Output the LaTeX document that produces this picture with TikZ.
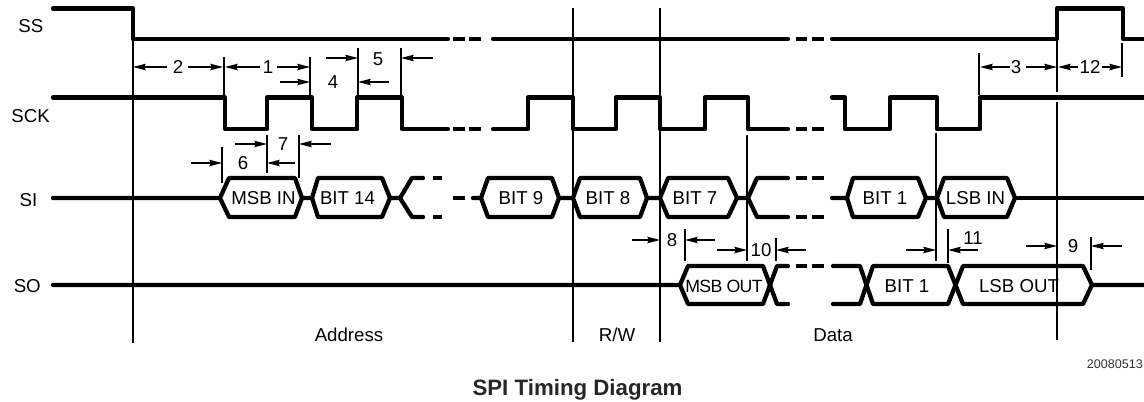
\documentclass[tikz,border=0pt]{standalone}
\usepackage{fontspec}
\setmainfont{Liberation Sans}
\usetikzlibrary{arrows.meta}
\tikzset{
  sig/.style={line width=3.2pt,line cap=round,line join=round},
  thinline/.style={line width=0.9pt},
  dim/.style={line width=0.9pt,-{Stealth[length=9.5pt,width=4.8pt,inset=1pt]}},
  lab/.style={inner sep=0pt,font=\fontsize{14}{15}\selectfont},
  small/.style={inner sep=0pt,font=\fontsize{13.3}{15}\selectfont\addfontfeatures{LetterSpace=-4}},
  tiny/.style={inner sep=0pt,font=\fontsize{9.4}{11}\selectfont,text=black!80},
  titlefont/.style={inner sep=0pt,font=\fontsize{16.7}{18}\selectfont\bfseries,text=black!85},
}
\begin{document}
\begin{tikzpicture}[x=0.75pt,y=-0.75pt]
\useasboundingbox (0,0) rectangle (1144,402);
% thin verticals
\foreach \x/\a/\b in {133/39/343,573/8/342,660/8/342,1057/39/92,1057/102/340,747/135/261,936/133/261,
  224/57/97,310/57/95,358/48/95,401/48/95,267/135/173,299/135/178,222/147/183,979/53/95,1122/43/77,
  685/229/261,776/238/261,948/229/263,1091/237/270}
  \draw[thinline] (\x,\a) -- (\x,\b);
% dimension arrows
\foreach \a/\b/\y in {167/133/67,188/223/67,260/225/67,277/310/67,280/310/82,389/358/82,326/358/58,433/401/58,
  235/267/144,331/299/144,191/222/163,295/267/163,1010/980/67,1026/1057/67,1078/1058/67,1102/1122/67,
  632/660/240,715/685/240,717/747/250,806/776/250,906/936/250,978/948/250,1026/1057/246,1122/1091/246}
  \draw[dim] (\a,\y) -- (\b,\y);
% SS
\draw[sig] (53,8.5) -- (133,8.5) -- (133,39) -- (448,39);
\draw[sig] (493,39) -- (788,39);
\draw[sig] (832,39) -- (1057,39) -- (1057,8.5) -- (1123,8.5) -- (1123,39) -- (1144,39);
% SCK
\draw[sig] (53,97.5) -- (225,97.5) -- (225,129) -- (267,129) -- (267,97.5) -- (312,97.5) -- (312,129) -- (357,129) -- (357,97.5) -- (402,97.5) -- (402,129) -- (448,129);
\draw[sig] (493,129) -- (528,129) -- (528,97.5) -- (573,97.5) -- (573,129) -- (616,129) -- (616,97.5) -- (660,97.5) -- (660,129) -- (705,129) -- (705,97.5) -- (748,97.5) -- (748,129) -- (788,129);
\draw[sig] (832,97.5) -- (845,97.5) -- (845,129) -- (890,129) -- (890,97.5) -- (937,97.5) -- (937,129) -- (980,129) -- (980,97.5) -- (1144,97.5);
% broken-line dashes on SS and SCK and SI
\foreach \y in {39,129,198} {
  \draw[sig,line cap=butt] (453,\y) -- (465,\y);
}
\foreach \y in {39,129} {
  \draw[sig,line cap=butt] (469,\y) -- (481,\y);
  \draw[sig,line cap=butt] (796,\y) -- (807,\y);
  \draw[sig,line cap=butt] (812,\y) -- (824,\y);
}
% SI
\draw[sig] (53,198) -- (220,198) -- (229,178) -- (295,178) -- (302,198) -- (295,217) -- (229,217) -- (220,198);
\draw[sig] (302,198) -- (312,198) -- (318,178) -- (382,178) -- (390,198) -- (382,217) -- (318,217) -- (312,198);
\draw[sig] (390,198) -- (400,198) -- (412,178) -- (423,178);
\draw[sig] (400,198) -- (412,217) -- (423,217);
\foreach \y in {178,217} {
  \draw[sig,line cap=butt] (433,\y) -- (442,\y);
  \draw[sig,line cap=butt] (796,\y) -- (807,\y);
  \draw[sig,line cap=butt] (812,\y) -- (824,\y);
}
\draw[sig] (473,198) -- (481,198) -- (488,178) -- (552,178) -- (559,198) -- (552,217) -- (488,217) -- (481,198);
\draw[sig] (559,198) -- (573,198) -- (580,178) -- (640,178) -- (647,198) -- (640,217) -- (580,217) -- (573,198);
\draw[sig] (647,198) -- (660,198) -- (668,178) -- (728,178) -- (737,198) -- (728,217) -- (668,217) -- (660,198);
\draw[sig] (737,198) -- (748,198) -- (757,178) -- (788,178);
\draw[sig] (748,198) -- (757,217) -- (788,217);
\draw[sig] (832,198) -- (847,198) -- (853,178) -- (918,178) -- (926,198) -- (918,217) -- (853,217) -- (847,198);
\draw[sig] (926,198) -- (937,198) -- (944,178) -- (1007,178) -- (1015,198) -- (1007,217) -- (944,217) -- (937,198);
\draw[sig] (1015,198) -- (1144,198);
% SO
\draw[sig] (53,285) -- (680,285) -- (688,266) -- (763,266) -- (777,304) -- (788,304);
\draw[sig] (680,285) -- (688,304) -- (763,304) -- (777,266) -- (788,266);
\draw[sig,line cap=butt] (796,266) -- (807,266);
\draw[sig,line cap=butt] (812,266) -- (824,266);
\draw[sig] (833,266) -- (860,266) -- (873,304) -- (948,304) -- (963,266) -- (1083,266) -- (1092,285) -- (1144,285);
\draw[sig] (833,304) -- (860,304) -- (873,266) -- (948,266) -- (963,304) -- (1083,304) -- (1092,285);
% signal names
\node[lab,anchor=east] (ss) at (43.5,26) {SS};
\node[lab,anchor=east] (sck) at (50,116) {SCK};
\node[lab,anchor=east] (si) at (37.5,200) {SI};
\node[lab,anchor=east] (so) at (41,286) {SO};
% bit labels
\node[lab] (b1) at (263.5,198) {MSB IN};
\node[lab] (b2) at (347.5,198) {BIT 14};
\node[lab] (b3) at (521,198) {BIT 9};
\node[lab] (b4) at (608,198) {BIT 8};
\node[lab] (b5) at (695,198) {BIT 7};
\node[lab] (b6) at (885,198) {BIT 1};
\node[lab] (b7) at (975.5,198) {LSB IN};
\node[small] (b8) at (724,286) {MSB OUT};
\node[lab] (b9) at (907,286) {BIT 1};
\node[lab] (b10) at (1019,286) {LSB OUT};
% numbers
\node[lab] (n2) at (178,67) {2};
\node[lab] (n1) at (268,67) {1};
\node[lab] (n5) at (378,59) {5};
\node[lab] (n4) at (333,82) {4};
\node[lab] (n7) at (283,144) {7};
\node[lab] (n6) at (243,163) {6};
\node[lab] (n3) at (1016,67) {3};
\node[lab] (n12) at (1090,67) {12};
\node[lab] (n8) at (672,240) {8};
\node[lab] (n10) at (761,250) {10};
\node[lab] (n11) at (973,238) {11};
\node[lab] (n9) at (1073,246) {9};
% sections
\node[lab] (addr) at (349,335) {Address};
\node[lab] (rw) at (617,335) {R/W};
\node[lab] (data) at (833,335) {Data};
\node[tiny,anchor=east] (id) at (1143,364) {20080513};
\node[titlefont] (title) at (577.5,389.5) {SPI Timing Diagram};
\end{tikzpicture}
\end{document}
